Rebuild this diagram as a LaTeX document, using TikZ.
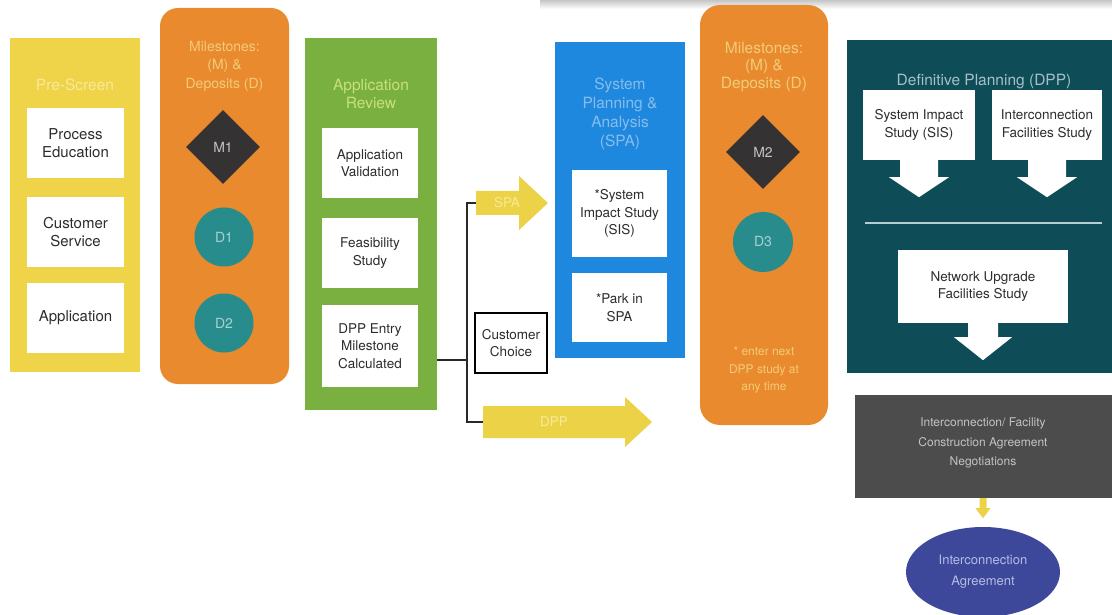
\documentclass[tikz,border=0pt]{standalone}
\usepackage{fontspec}
\setmainfont{TeX Gyre Heros}
\usetikzlibrary{shapes.geometric}
\definecolor{cyel}{RGB}{239,211,72}
\definecolor{cora}{RGB}{232,138,45}
\definecolor{cgrn}{RGB}{122,176,64}
\definecolor{cblu}{RGB}{30,136,222}
\definecolor{cteal}{RGB}{14,76,88}
\definecolor{cgry}{RGB}{76,76,76}
\definecolor{cell}{RGB}{62,72,155}
\definecolor{cdia}{RGB}{52,50,50}
\definecolor{ccir}{RGB}{40,140,140}
\definecolor{carr}{RGB}{236,210,70}
\definecolor{tyel}{RGB}{249,234,150}
\definecolor{tora}{RGB}{243,204,120}
\definecolor{tgrn}{RGB}{200,224,125}
\definecolor{tblu}{RGB}{135,188,236}
\definecolor{tteal}{RGB}{165,192,198}
\definecolor{tgry}{RGB}{195,195,195}
\definecolor{tell}{RGB}{180,188,225}
\definecolor{tbox}{RGB}{45,45,45}
\definecolor{cline}{RGB}{40,40,40}
\begin{document}
\begin{tikzpicture}[x=1pt,y=-1pt,
  panel/.style={inner sep=0pt, draw=none},
  wbox/.style={fill=white, inner sep=0pt, align=center, text=tbox, font=\fontsize{13.5}{17.5}\selectfont},
  bigbox/.style={wbox, font=\fontsize{15}{18}\selectfont},
  ptitle/.style={align=center, inner sep=0pt, font=\fontsize{15.5}{18.5}\selectfont},
  mdia/.style={diamond, fill=cdia, inner sep=0pt, minimum size=74pt, text=tgry, font=\fontsize{14}{16}\selectfont},
  dcir/.style={circle, fill=ccir, inner sep=0pt, minimum size=59pt, text={ccir!40!white}, font=\fontsize{14}{16}\selectfont},
  conn/.style={draw=cline, line width=1.4pt},
  yarrow/.style={fill=carr},
  alabel/.style={inner sep=0pt, text=tyel, font=\fontsize{13.5}{16}\selectfont}
]
\useasboundingbox (0,0) rectangle (1112,615);
\fill[white] (0,0) rectangle (1112,615);
\shade[top color=gray!45, bottom color=white] (540,0) rectangle (1112,9);

% ---------- Pre-Screen ----------
\node[panel, fill=cyel, minimum width=130pt, minimum height=334pt] (pre) at (75,205) {};
\node[ptitle, text=tyel] (pretitle) at (75,85) {Pre-Screen};
\node[bigbox, minimum width=97pt, minimum height=70pt] (pe) at (75.5,143) {Process\\Education};
\node[bigbox, minimum width=97pt, minimum height=70pt] (cs) at (75.5,232) {Customer\\Service};
\node[bigbox, minimum width=97pt, minimum height=70pt] (ap) at (75.5,318) {Application};

% ---------- Milestones 1 ----------
\node[panel, fill=cora, rounded corners=18pt, minimum width=129pt, minimum height=376pt] (ms1) at (224.5,196) {};
\node[ptitle, text=tora, font=\fontsize{14}{18.5}\selectfont] (ms1title) at (224.5,66) {Milestones:\\(M) \&\\Deposits (D)};
\node[mdia] (m1) at (223,147) {M1};
\node[dcir] (d1) at (224,237) {D1};
\node[dcir] (d2) at (224,323) {D2};

% ---------- Application Review ----------
\node[panel, fill=cgrn, minimum width=132pt, minimum height=372pt] (ar) at (371,224) {};
\node[ptitle, text=tgrn] (artitle) at (371,94) {Application\\Review};
\node[wbox, minimum width=96pt, minimum height=70pt] (av) at (370,163) {Application\\Validation};
\node[wbox, minimum width=96pt, minimum height=70pt] (fs) at (370,253) {Feasibility\\Study};
\node[wbox, minimum width=96pt, minimum height=82pt] (de) at (370,346) {DPP Entry\\Milestone\\Calculated};

% ---------- Customer choice & arrows ----------
\node[draw=black, line width=1.2pt, fill=white, inner sep=0pt, minimum width=72pt, minimum height=60pt, align=center, text=tbox, font=\fontsize{13.5}{17}\selectfont] (cc) at (511,343) {Customer\\Choice};
\fill[yarrow] (476,191) -- (519,191) -- (519,176) -- (548,203) -- (519,230) -- (519,215) -- (476,215) -- cycle;
\node[alabel] (spalab) at (507,203) {SPA};
\fill[yarrow] (483,406) -- (625,406) -- (625,397) -- (652,422) -- (625,447) -- (625,438) -- (483,438) -- cycle;
\node[alabel] (dpplab) at (554,422) {DPP};
\coordinate (j) at (467,360);
\coordinate (spain) at (476,203);
\coordinate (dppin) at (483,422);
\draw[conn] (ar.east |- j) -- (j);
\draw[conn] (spain) -| (j) |- (dppin);

% ---------- SPA ----------
\node[panel, fill=cblu, minimum width=130pt, minimum height=316pt] (spa) at (620,200) {};
\node[ptitle, text=tblu, font=\fontsize{15.5}{19}\selectfont] (spatitle) at (620,114) {System\\Planning \&\\Analysis\\(SPA)};
\node[wbox, minimum width=95pt, minimum height=87pt] (sis1) at (619.5,213.5) {*System\\Impact Study\\(SIS)};
\node[wbox, minimum width=95pt, minimum height=69pt] (park) at (619.5,307.5) {*Park in\\SPA};

% ---------- Milestones 2 ----------
\node[panel, fill=cora, rounded corners=20pt, minimum width=128pt, minimum height=420pt] (ms2) at (764,215) {};
\node[ptitle, text=tora, font=\fontsize{15.5}{17.5}\selectfont] (ms2title) at (764,67) {Milestones:\\(M) \&\\Deposits (D)};
\node[mdia] (m2) at (763,152) {M2};
\node[dcir, minimum size=60pt] (d3) at (763,242) {D3};
\node[ptitle, text=tora, font=\fontsize{12}{17.5}\selectfont] (ms2note) at (764,370) {* enter next\\DPP study at\\any time};

% ---------- DPP ----------
\node[panel, fill=cteal, minimum width=265pt, minimum height=333pt] (dpp) at (979.5,206.5) {};
\node[ptitle, text=tteal] (dpptitle) at (984,82) {Definitive Planning (DPP)};
\node[wbox, minimum width=112pt, minimum height=70pt] (sis2) at (919,125) {System Impact\\Study (SIS)};
\node[wbox, minimum width=110pt, minimum height=70pt] (ifs) at (1047,125) {Interconnection\\Facilities Study};
\node[wbox, minimum width=170pt, minimum height=73pt] (nu) at (983,286.5) {Network Upgrade\\Facilities Study};
\fill[white] (sis2.south) ++(-19,-1) -- ++(0,18) -- ++(-11,0) -- ++(30,20) -- ++(30,-20) -- ++(-11,0) -- ++(0,-18) -- cycle;
\fill[white] (ifs.south) ++(-19,-1) -- ++(0,18) -- ++(-11,0) -- ++(30,20) -- ++(30,-20) -- ++(-11,0) -- ++(0,-18) -- cycle;
\fill[white] (nu.south) ++(-15,-1) -- ++(0,15) -- ++(-14,0) -- ++(29,23) -- ++(29,-23) -- ++(-14,0) -- ++(0,-15) -- cycle;
\coordinate (sepl) at (865,223);
\coordinate (sepr) at (1102,223);
\draw[draw=tteal!80!white, line width=1.1pt] (sepl) -- (sepr);

% ---------- Negotiations & Agreement ----------
\node[panel, fill=cgry, minimum width=257pt, minimum height=103pt] (neg) at (983.5,446.5) {};
\node[ptitle, text=tgry, font=\fontsize{12}{19.5}\selectfont] (negtext) at (983,443) {Interconnection/ Facility\\Construction Agreement\\Negotiations};
\node[ellipse, fill=cell, inner sep=0pt, minimum width=154pt, minimum height=90pt, align=center, text=tell, font=\fontsize{13}{21}\selectfont] (ia) at (983,572) {Interconnection\\Agreement};
\fill[carr] (neg.south -| ia.north) ++(-3.5,0) -- ++(0,10) -- ++(-4,0) -- ++(7.5,10) -- ++(7.5,-10) -- ++(-4,0) -- ++(0,-10) -- cycle;
\end{tikzpicture}
\end{document}
